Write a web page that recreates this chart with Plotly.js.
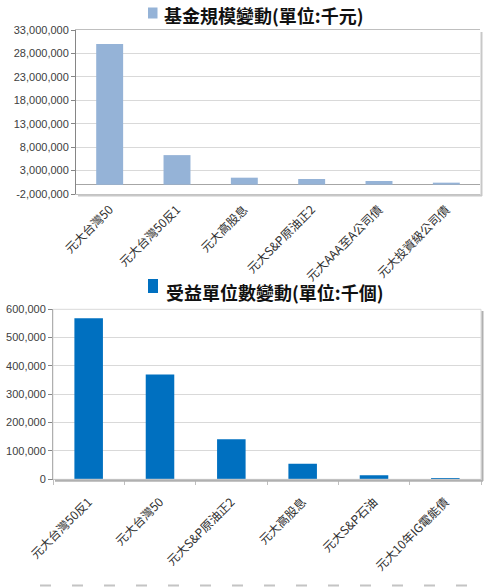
<!DOCTYPE html>
<html>
<head>
<meta charset="utf-8">
<script src="https://cdn.plot.ly/plotly-3.0.1.min.js"></script>
<style>html,body{margin:0;padding:0;background:#fff;}#chart{width:486px;height:587px;}</style>
</head>
<body>
<div id="chart"></div>
<script>
// Chart 1: 基金規模變動(單位:千元)
const title1 = "基金規模變動(單位:千元)";
const categories1 = ["元大台灣50", "元大台灣50反1", "元大高股息", "元大S&P原油正2", "元大AAA至A公司債", "元大投資級公司債"];
const values1 = [30000000, 6300000, 1480000, 1200000, 780000, 420000];
const yTicks1 = [-2000000, 3000000, 8000000, 13000000, 18000000, 23000000, 28000000, 33000000];

// Chart 2: 受益單位數變動(單位:千個)
const title2 = "受益單位數變動(單位:千個)";
const categories2 = ["元大台灣50反1", "元大台灣50", "元大S&P原油正2", "元大高股息", "元大S&P石油", "元大10年IG電能債"];
const values2 = [568000, 370000, 141000, 55000, 14000, 5000];
const yTicks2 = [0, 100000, 200000, 300000, 400000, 500000, 600000];

const W = 486, H = 587;
const px = v => v / W;
const py = v => 1 - v / H;

const tickFont = {family: "Liberation Sans, Arial, sans-serif", size: 11, color: "#404040"};
const catFont = {family: "Noto Sans CJK TC, Liberation Sans, sans-serif", size: 12, color: "#303030"};
const titleFont = {family: "Noto Sans CJK TC, sans-serif", size: 18, color: "#111"};

const fmt = v => v.toLocaleString("en-US");

const traces = [
  {type: "bar", x: categories1, y: values1, xaxis: "x", yaxis: "y",
   marker: {color: "#95b3d7"}, showlegend: false, hoverinfo: "skip"},
  {type: "bar", x: categories2, y: values2, xaxis: "x2", yaxis: "y2",
   marker: {color: "#0070c0"}, showlegend: false, hoverinfo: "skip"}
];

const layout = {
  width: W, height: H,
  margin: {l: 0, r: 0, t: 0, b: 0},
  paper_bgcolor: "#fff", plot_bgcolor: "#fff",
  bargap: 0.6,
  xaxis: {domain: [px(76), px(480)], anchor: "y", type: "category",
          tickangle: -45, tickfont: catFont, showline: true, linecolor: "#bfbfbf",
          mirror: true, ticks: "", ticklabelstandoff: 3, fixedrange: true, automargin: false},
  yaxis: {domain: [py(194), py(30)], anchor: "x", range: [-2000000, 33000000],
          tickvals: yTicks1, ticktext: yTicks1.map(fmt), tickfont: tickFont,
          showgrid: true, gridcolor: "#d9d9d9", gridwidth: 1,
          zeroline: true, zerolinecolor: "#a6a6a6", zerolinewidth: 1,
          showline: true, linecolor: "#868686", ticks: "outside", ticklen: 4,
          tickcolor: "#868686", mirror: false, automargin: false},
  xaxis2: {domain: [px(53), px(481)], anchor: "y2", type: "category",
           tickangle: -45, tickfont: catFont, showline: true, linecolor: "#868686",
           ticks: "outside", tickson: "boundaries", ticklen: 5, tickcolor: "#bfbfbf",
           ticklabelstandoff: 10, fixedrange: true, automargin: false},
  yaxis2: {domain: [py(479.3), py(309.3)], anchor: "x2", range: [0, 600000],
           tickvals: yTicks2, ticktext: yTicks2.map(fmt), tickfont: tickFont,
           showgrid: true, gridcolor: "#d9d9d9", gridwidth: 1, zeroline: false,
           showline: true, linecolor: "#868686", ticks: "outside", ticklen: 4,
           tickcolor: "#868686", automargin: false},
  shapes: [
    // plot-area frames / shadows
    {type: "line", xref: "paper", yref: "paper", x0: px(481.5), x1: px(481.5), y0: py(196), y1: py(32), line: {color: "#c8c8c8", width: 2}},
    {type: "line", xref: "paper", yref: "paper", x0: px(78), x1: px(482), y0: py(195.5), y1: py(195.5), line: {color: "#c8c8c8", width: 2}},
    {type: "rect", xref: "paper", yref: "paper", x0: px(53), x1: px(481), y0: py(479.3), y1: py(309.3), line: {color: "#d9d9d9", width: 1}},
    {type: "line", xref: "paper", yref: "paper", x0: px(482.5), x1: px(482.5), y0: py(481), y1: py(311), line: {color: "#b0b0b0", width: 2}},
    {type: "line", xref: "paper", yref: "paper", x0: px(55), x1: px(483), y0: py(480.8), y1: py(480.8), line: {color: "#b0b0b0", width: 2}},
    // title legend squares
    {type: "rect", xref: "paper", yref: "paper", x0: px(148), x1: px(157.5), y0: py(18.5), y1: py(7.5), fillcolor: "#95b3d7", line: {width: 0}},
    {type: "rect", xref: "paper", yref: "paper", x0: px(148), x1: px(158), y0: py(293), y1: py(279), fillcolor: "#0070c0", line: {width: 0}},
    // decorative dashed rule at page bottom
    {type: "line", xref: "paper", yref: "paper", x0: px(40), x1: px(486), y0: py(585.5), y1: py(585.5), line: {color: "#c4c4c4", width: 2, dash: "11px,21px"}}
  ],
  annotations: [
    {xref: "paper", yref: "paper", x: px(162), y: py(15), xanchor: "left", yanchor: "middle",
     text: "<b>" + title1 + "</b>", showarrow: false, font: titleFont},
    {xref: "paper", yref: "paper", x: px(164), y: py(292), xanchor: "left", yanchor: "middle",
     text: "<b>" + title2 + "</b>", showarrow: false, font: titleFont}
  ]
};

Plotly.newPlot("chart", traces, layout, {staticPlot: true, displayModeBar: false});
</script>
</body>
</html>
